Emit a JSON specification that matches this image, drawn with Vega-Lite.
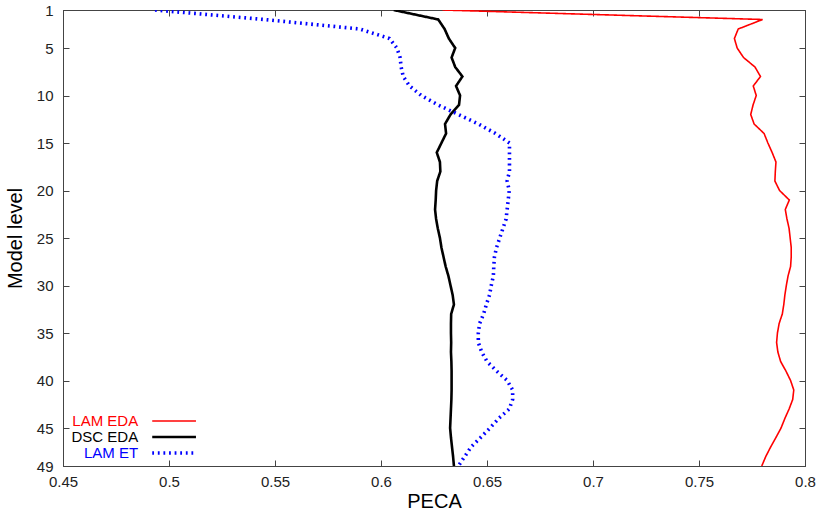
{
  "$schema": "https://vega.github.io/schema/vega-lite/v6.json",
  "autosize": {"type": "none"},
  "padding": {"left": 63, "top": 10, "right": 14, "bottom": 50},
  "width": 742,
  "height": 456,
  "background": "white",
  "config": {
    "font": "Liberation Sans",
    "view": {"stroke": "#444", "strokeWidth": 1}
  },
  "datasets": {
    "peca": [
      {"series": "LAM EDA", "level": 1, "v": 0.629},
      {"series": "LAM EDA", "level": 2, "v": 0.780},
      {"series": "LAM EDA", "level": 3, "v": 0.7685},
      {"series": "LAM EDA", "level": 4, "v": 0.7667},
      {"series": "LAM EDA", "level": 5, "v": 0.768},
      {"series": "LAM EDA", "level": 6, "v": 0.771},
      {"series": "LAM EDA", "level": 7, "v": 0.7764},
      {"series": "LAM EDA", "level": 8, "v": 0.779},
      {"series": "LAM EDA", "level": 9, "v": 0.7756},
      {"series": "LAM EDA", "level": 10, "v": 0.777},
      {"series": "LAM EDA", "level": 11, "v": 0.7755},
      {"series": "LAM EDA", "level": 12, "v": 0.7744},
      {"series": "LAM EDA", "level": 13, "v": 0.776},
      {"series": "LAM EDA", "level": 14, "v": 0.7807},
      {"series": "LAM EDA", "level": 15, "v": 0.7825},
      {"series": "LAM EDA", "level": 16, "v": 0.7845},
      {"series": "LAM EDA", "level": 17, "v": 0.7863},
      {"series": "LAM EDA", "level": 18, "v": 0.786},
      {"series": "LAM EDA", "level": 19, "v": 0.7858},
      {"series": "LAM EDA", "level": 20, "v": 0.788},
      {"series": "LAM EDA", "level": 21, "v": 0.7926},
      {"series": "LAM EDA", "level": 22, "v": 0.7907},
      {"series": "LAM EDA", "level": 23, "v": 0.7915},
      {"series": "LAM EDA", "level": 24, "v": 0.7925},
      {"series": "LAM EDA", "level": 25, "v": 0.793},
      {"series": "LAM EDA", "level": 26, "v": 0.7935},
      {"series": "LAM EDA", "level": 27, "v": 0.7935},
      {"series": "LAM EDA", "level": 28, "v": 0.7932},
      {"series": "LAM EDA", "level": 29, "v": 0.792},
      {"series": "LAM EDA", "level": 30, "v": 0.7912},
      {"series": "LAM EDA", "level": 31, "v": 0.7905},
      {"series": "LAM EDA", "level": 32, "v": 0.790},
      {"series": "LAM EDA", "level": 33, "v": 0.7893},
      {"series": "LAM EDA", "level": 34, "v": 0.7878},
      {"series": "LAM EDA", "level": 35, "v": 0.787},
      {"series": "LAM EDA", "level": 36, "v": 0.7866},
      {"series": "LAM EDA", "level": 37, "v": 0.7872},
      {"series": "LAM EDA", "level": 38, "v": 0.7885},
      {"series": "LAM EDA", "level": 39, "v": 0.791},
      {"series": "LAM EDA", "level": 40, "v": 0.7932},
      {"series": "LAM EDA", "level": 41, "v": 0.7947},
      {"series": "LAM EDA", "level": 42, "v": 0.7942},
      {"series": "LAM EDA", "level": 43, "v": 0.7925},
      {"series": "LAM EDA", "level": 44, "v": 0.7905},
      {"series": "LAM EDA", "level": 45, "v": 0.7887},
      {"series": "LAM EDA", "level": 46, "v": 0.7863},
      {"series": "LAM EDA", "level": 47, "v": 0.7838},
      {"series": "LAM EDA", "level": 48, "v": 0.7815},
      {"series": "LAM EDA", "level": 49, "v": 0.7796},
      {"series": "DSC EDA", "level": 1, "v": 0.606},
      {"series": "DSC EDA", "level": 2, "v": 0.627},
      {"series": "DSC EDA", "level": 3, "v": 0.630},
      {"series": "DSC EDA", "level": 4, "v": 0.632},
      {"series": "DSC EDA", "level": 5, "v": 0.635},
      {"series": "DSC EDA", "level": 6, "v": 0.6333},
      {"series": "DSC EDA", "level": 7, "v": 0.635},
      {"series": "DSC EDA", "level": 8, "v": 0.6384},
      {"series": "DSC EDA", "level": 9, "v": 0.6354},
      {"series": "DSC EDA", "level": 10, "v": 0.6373},
      {"series": "DSC EDA", "level": 11, "v": 0.6368},
      {"series": "DSC EDA", "level": 12, "v": 0.6328},
      {"series": "DSC EDA", "level": 13, "v": 0.6302},
      {"series": "DSC EDA", "level": 14, "v": 0.6307},
      {"series": "DSC EDA", "level": 15, "v": 0.6285},
      {"series": "DSC EDA", "level": 16, "v": 0.6263},
      {"series": "DSC EDA", "level": 17, "v": 0.6278},
      {"series": "DSC EDA", "level": 18, "v": 0.628},
      {"series": "DSC EDA", "level": 19, "v": 0.6265},
      {"series": "DSC EDA", "level": 20, "v": 0.626},
      {"series": "DSC EDA", "level": 21, "v": 0.6258},
      {"series": "DSC EDA", "level": 22, "v": 0.6255},
      {"series": "DSC EDA", "level": 23, "v": 0.626},
      {"series": "DSC EDA", "level": 24, "v": 0.6268},
      {"series": "DSC EDA", "level": 25, "v": 0.6278},
      {"series": "DSC EDA", "level": 26, "v": 0.6285},
      {"series": "DSC EDA", "level": 27, "v": 0.6295},
      {"series": "DSC EDA", "level": 28, "v": 0.6305},
      {"series": "DSC EDA", "level": 29, "v": 0.6318},
      {"series": "DSC EDA", "level": 30, "v": 0.6328},
      {"series": "DSC EDA", "level": 31, "v": 0.6338},
      {"series": "DSC EDA", "level": 32, "v": 0.6344},
      {"series": "DSC EDA", "level": 33, "v": 0.6331},
      {"series": "DSC EDA", "level": 34, "v": 0.633},
      {"series": "DSC EDA", "level": 35, "v": 0.633},
      {"series": "DSC EDA", "level": 36, "v": 0.6331},
      {"series": "DSC EDA", "level": 37, "v": 0.633},
      {"series": "DSC EDA", "level": 38, "v": 0.6332},
      {"series": "DSC EDA", "level": 39, "v": 0.6333},
      {"series": "DSC EDA", "level": 40, "v": 0.6333},
      {"series": "DSC EDA", "level": 41, "v": 0.6333},
      {"series": "DSC EDA", "level": 42, "v": 0.6332},
      {"series": "DSC EDA", "level": 43, "v": 0.633},
      {"series": "DSC EDA", "level": 44, "v": 0.6328},
      {"series": "DSC EDA", "level": 45, "v": 0.6326},
      {"series": "DSC EDA", "level": 46, "v": 0.633},
      {"series": "DSC EDA", "level": 47, "v": 0.6335},
      {"series": "DSC EDA", "level": 48, "v": 0.634},
      {"series": "DSC EDA", "level": 49, "v": 0.6344},
      {"series": "LAM ET", "level": 1, "v": 0.4934},
      {"series": "LAM ET", "level": 2, "v": 0.545},
      {"series": "LAM ET", "level": 3, "v": 0.590},
      {"series": "LAM ET", "level": 4, "v": 0.604},
      {"series": "LAM ET", "level": 5, "v": 0.6075},
      {"series": "LAM ET", "level": 6, "v": 0.609},
      {"series": "LAM ET", "level": 7, "v": 0.6095},
      {"series": "LAM ET", "level": 8, "v": 0.6105},
      {"series": "LAM ET", "level": 9, "v": 0.6135},
      {"series": "LAM ET", "level": 10, "v": 0.619},
      {"series": "LAM ET", "level": 11, "v": 0.627},
      {"series": "LAM ET", "level": 12, "v": 0.6365},
      {"series": "LAM ET", "level": 13, "v": 0.646},
      {"series": "LAM ET", "level": 14, "v": 0.654},
      {"series": "LAM ET", "level": 15, "v": 0.6606},
      {"series": "LAM ET", "level": 16, "v": 0.6606},
      {"series": "LAM ET", "level": 17, "v": 0.6606},
      {"series": "LAM ET", "level": 18, "v": 0.6606},
      {"series": "LAM ET", "level": 19, "v": 0.6595},
      {"series": "LAM ET", "level": 20, "v": 0.6605},
      {"series": "LAM ET", "level": 21, "v": 0.660},
      {"series": "LAM ET", "level": 22, "v": 0.6595},
      {"series": "LAM ET", "level": 23, "v": 0.659},
      {"series": "LAM ET", "level": 24, "v": 0.6575},
      {"series": "LAM ET", "level": 25, "v": 0.656},
      {"series": "LAM ET", "level": 26, "v": 0.6545},
      {"series": "LAM ET", "level": 27, "v": 0.6535},
      {"series": "LAM ET", "level": 28, "v": 0.6532},
      {"series": "LAM ET", "level": 29, "v": 0.653},
      {"series": "LAM ET", "level": 30, "v": 0.652},
      {"series": "LAM ET", "level": 31, "v": 0.6512},
      {"series": "LAM ET", "level": 32, "v": 0.6497},
      {"series": "LAM ET", "level": 33, "v": 0.6484},
      {"series": "LAM ET", "level": 34, "v": 0.6465},
      {"series": "LAM ET", "level": 35, "v": 0.6459},
      {"series": "LAM ET", "level": 36, "v": 0.6459},
      {"series": "LAM ET", "level": 37, "v": 0.6475},
      {"series": "LAM ET", "level": 38, "v": 0.650},
      {"series": "LAM ET", "level": 39, "v": 0.6545},
      {"series": "LAM ET", "level": 40, "v": 0.6595},
      {"series": "LAM ET", "level": 41, "v": 0.6621},
      {"series": "LAM ET", "level": 42, "v": 0.6621},
      {"series": "LAM ET", "level": 43, "v": 0.6605},
      {"series": "LAM ET", "level": 44, "v": 0.6555},
      {"series": "LAM ET", "level": 45, "v": 0.6514},
      {"series": "LAM ET", "level": 46, "v": 0.647},
      {"series": "LAM ET", "level": 47, "v": 0.6425},
      {"series": "LAM ET", "level": 48, "v": 0.6395},
      {"series": "LAM ET", "level": 49, "v": 0.6365}
    ]
  },
  "data": {"name": "peca"},
  "layer": [
    {
      "mark": {"type": "line", "opacity": 0},
      "encoding": {
        "x": {"field": "v", "type": "quantitative",
          "scale": {"domain": [0.45, 0.8], "nice": false, "zero": false},
          "axis": {"orient": "top", "values": [0.45, 0.5, 0.55, 0.6, 0.65, 0.7, 0.75, 0.8],
            "labels": false, "title": null, "grid": false, "domain": true, "domainColor": "#444",
            "tickColor": "#444", "tickSize": -6, "tickWidth": 1}},
        "y": {"field": "level", "type": "quantitative",
          "scale": {"domain": [1, 49], "nice": false, "zero": false, "reverse": true},
          "axis": {"orient": "right", "values": [1, 5, 10, 15, 20, 25, 30, 35, 40, 45, 49],
            "labels": false, "title": null, "grid": false, "domain": true, "domainColor": "#444",
            "tickColor": "#444", "tickSize": -6, "tickWidth": 1}},
        "detail": {"field": "series"},
        "order": {"field": "level"}
      }
    },
    {
      "mark": {"type": "line", "clip": true},
      "encoding": {
        "x": {"field": "v", "type": "quantitative",
          "axis": {"orient": "bottom", "values": [0.45, 0.5, 0.55, 0.6, 0.65, 0.7, 0.75, 0.8],
            "format": "~g", "title": "PECA", "grid": false, "domain": true, "domainColor": "#444",
            "tickColor": "#444", "tickSize": -6, "tickWidth": 1, "labelPadding": 14,
            "labelFontSize": 15, "labelColor": "#222", "labelFont": "Liberation Sans",
            "titleFontSize": 20, "titleFontWeight": "normal", "titleColor": "#000",
            "titlePadding": 2, "titleFont": "Liberation Sans", "labelFlush": false}},
        "y": {"field": "level", "type": "quantitative",
          "axis": {"orient": "left", "values": [1, 5, 10, 15, 20, 25, 30, 35, 40, 45, 49],
            "title": "Model level", "grid": false, "domain": true, "domainColor": "#444",
            "tickColor": "#444", "tickSize": -6, "tickWidth": 1, "labelPadding": 16,
            "labelFontSize": 15, "labelColor": "#222", "labelFont": "Liberation Sans",
            "titleFontSize": 20, "titleFontWeight": "normal", "titleColor": "#000",
            "titlePadding": 11, "titleFont": "Liberation Sans", "labelFlush": false}},
        "color": {"field": "series", "type": "nominal",
          "scale": {"domain": ["LAM EDA", "DSC EDA", "LAM ET"], "range": ["#ff0000", "#000000", "#0000ff"]},
          "legend": {"orient": "none", "legendX": 0, "legendY": 403.5, "title": null,
            "symbolType": "M-5.6,0H5.6", "symbolSize": 61, "rowPadding": 0,
            "padding": 0, "labelFontSize": 15, "labelFont": "Liberation Sans",
            "symbolOffset": 103.6, "labelOffset": -43.4, "labelAlign": "right",
            "encode": {
              "labels": {"update": {"fill": {"scale": "color", "field": "value"}}}
            }}},
        "strokeWidth": {"field": "series", "type": "nominal",
          "scale": {"domain": ["LAM EDA", "DSC EDA", "LAM ET"], "range": [1.6, 3.6, 2]},
          "legend": null},
        "strokeDash": {"field": "series", "type": "nominal",
          "scale": {"domain": ["LAM EDA", "DSC EDA", "LAM ET"], "range": [[1, 0], [1, 0], [1.8, 3.8]]},
          "legend": null},
        "order": {"field": "level"}
      }
    }
  ],
  "resolve": {"axis": {"x": "independent", "y": "independent"}}
}
